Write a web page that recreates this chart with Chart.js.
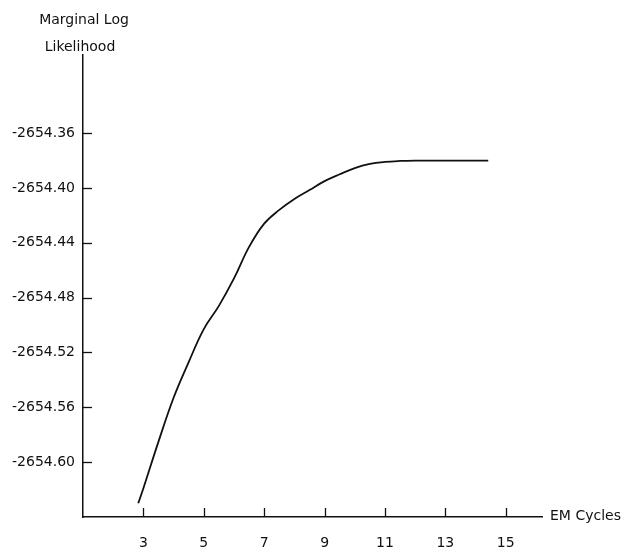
<!DOCTYPE html>
<html>
<head>
<meta charset="utf-8">
<script src="https://cdn.jsdelivr.net/npm/chart.js@4/dist/chart.umd.min.js"></script>
<style>
  html, body { margin: 0; padding: 0; background: #ffffff; }
  canvas { display: block; }
</style>
</head>
<body>
<canvas id="c" width="623" height="551"></canvas>
<script>
const emCycles = [2.83, 3, 3.5, 4, 4.5, 5, 5.5, 6, 6.5, 7, 7.5, 8, 8.5, 9, 9.5, 10, 10.5, 11, 11.5, 12, 12.5, 13, 13.5, 14, 14.42];
const logLikelihood = [-2654.630, -2654.619, -2654.585, -2654.553, -2654.527, -2654.503, -2654.486, -2654.466, -2654.443, -2654.426, -2654.416, -2654.408, -2654.4015, -2654.395, -2654.390, -2654.3855, -2654.3825, -2654.381, -2654.3803, -2654.380, -2654.380, -2654.380, -2654.380, -2654.380, -2654.380];
const xTickValues = [3, 5, 7, 9, 11, 13, 15];
const yTickValues = [-2654.60, -2654.56, -2654.52, -2654.48, -2654.44, -2654.40, -2654.36];
const yTitleLines = ['Marginal Log', 'Likelihood'];
const xTitle = 'EM Cycles';

const FONT = '"DejaVu Sans", sans-serif';
const INK = '#111111';

const innerTicks = {
  id: 'innerTicks',
  afterDraw(chart) {
    const ctx = chart.ctx;
    const xs = chart.scales.x, ys = chart.scales.y;
    const area = chart.chartArea;
    ctx.save();
    ctx.strokeStyle = INK;
    ctx.lineWidth = 1.3;
    xs.ticks.forEach(t => {
      const px = Math.round(xs.getPixelForValue(t.value)) + 0.5;
      ctx.beginPath();
      ctx.moveTo(px, area.bottom);
      ctx.lineTo(px, area.bottom - 9);
      ctx.stroke();
    });
    ys.ticks.forEach(t => {
      const py = Math.round(ys.getPixelForValue(t.value)) + 0.5;
      ctx.beginPath();
      ctx.moveTo(area.left, py);
      ctx.lineTo(area.left + 9, py);
      ctx.stroke();
    });
    ctx.fillStyle = INK;
    ctx.font = '14px ' + FONT;
    ctx.textBaseline = 'middle';
    ctx.textAlign = 'left';
    ctx.fillText(xTitle, area.right + 8, area.bottom - 1);
    ctx.textAlign = 'center';
    ctx.fillText(yTitleLines[0], area.left + 1, 20);
    ctx.fillText(yTitleLines[1], area.left - 3, 47);
    ctx.restore();
  }
};

new Chart(document.getElementById('c'), {
  type: 'line',
  data: {
    datasets: [{
      data: emCycles.map((x, i) => ({ x: x, y: logLikelihood[i] })),
      borderColor: INK,
      borderWidth: 1.8,
      pointRadius: 0,
      fill: false,
      tension: 0.4
    }]
  },
  options: {
    responsive: false,
    animation: false,
    layout: { padding: { top: 55, right: 81, left: 0, bottom: 0 } },
    plugins: { legend: { display: false }, tooltip: { enabled: false }, title: { display: false } },
    scales: {
      x: {
        type: 'linear',
        min: 1,
        max: 16.2,
        afterBuildTicks: s => { s.ticks = xTickValues.map(v => ({ value: v })); },
        afterFit: s => { s.height = 34; },
        grid: { display: false, drawTicks: false },
        border: { display: true, color: INK, width: 1.5 },
        ticks: { color: INK, font: { family: FONT, size: 14 }, padding: 18, maxRotation: 0, autoSkip: false,
                 callback: v => String(v) }
      },
      y: {
        type: 'linear',
        min: -2654.64,
        max: -2654.303,
        afterBuildTicks: s => { s.ticks = yTickValues.map(v => ({ value: v })); },
        afterFit: s => { s.width = 83; },
        grid: { display: false, drawTicks: false },
        border: { display: true, color: INK, width: 1.5 },
        ticks: { color: INK, font: { family: FONT, size: 14 }, padding: 8, autoSkip: false,
                 callback: v => Number(v).toFixed(2) }
      }
    }
  },
  plugins: [innerTicks]
});
</script>
</body>
</html>
